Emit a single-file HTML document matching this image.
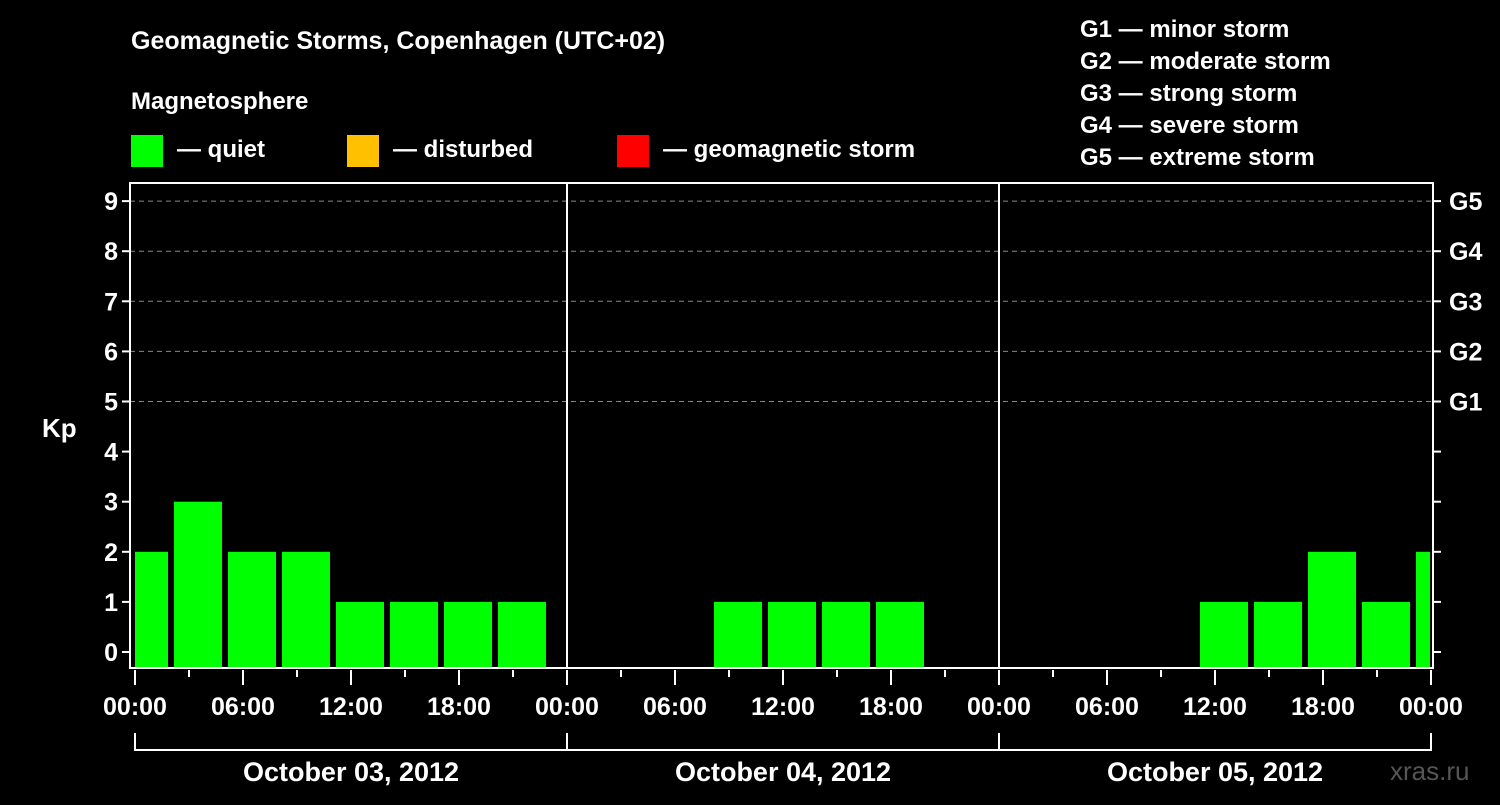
<!DOCTYPE html>
<html><head><meta charset="utf-8"><style>
body{margin:0;background:#000;width:1500px;height:800px;overflow:hidden}
svg text{font-family:"Liberation Sans",Arial,sans-serif;font-weight:bold;fill:#fff}
</style></head><body>
<svg id="chart" width="1500" height="800" viewBox="0 0 1500 800">
<text x="131" y="49" font-size="25">Geomagnetic Storms, Copenhagen (UTC+02)</text>
<text x="131" y="109" font-size="24">Magnetosphere</text>
<g><rect x="131" y="135" width="32" height="32" fill="#00ff00"/><text x="177" y="157" font-size="24">— quiet</text></g>
<g><rect x="347" y="135" width="32" height="32" fill="#ffc000"/><text x="393" y="157" font-size="24">— disturbed</text></g>
<g><rect x="617" y="135" width="32" height="32" fill="#ff0000"/><text x="663" y="157" font-size="24">— geomagnetic storm</text></g>
<g font-size="24">
<text x="1080" y="37">G1 — minor storm</text><text x="1080" y="69">G2 — moderate storm</text><text x="1080" y="101">G3 — strong storm</text><text x="1080" y="133">G4 — severe storm</text><text x="1080" y="165">G5 — extreme storm</text></g>
<text x="42" y="437" font-size="26">Kp</text>
<text x="1390" y="780" font-size="26" fill="#555" style="fill:#555;font-weight:normal">xras.ru</text>
<g id="grid"></g><g id="bars"></g><g id="axes"></g>
</svg>
<script>
const days = ["October 03, 2012","October 04, 2012","October 05, 2012"];
const hourLabels = ["00:00","06:00","12:00","18:00"];
const kpTicks = [0,1,2,3,4,5,6,7,8,9];
const gLabels = ["G1","G2","G3","G4","G5"];
// bar start hours relative to Oct 03 00:00 (local), and Kp values
const barHours = [-1,2,5,8,11,14,17,20,32,35,38,41,59,62,65,68,71];
const kpValues = [2,3,2,2,1,1,1,1,1,1,1,1,1,1,2,1,2];
const NS="http://www.w3.org/2000/svg";
const X0=135, PXH=18, Y0=652, PXK=50.1, L=130, R=1433, T=183, B=668;
const x=h=>X0+h*PXH, y=k=>Y0-k*PXK;
function el(p,t,a){const e=document.createElementNS(NS,t);for(const k in a)e.setAttribute(k,a[k]);p.appendChild(e);return e;}
const g=document.getElementById('grid'),b=document.getElementById('bars'),ax=document.getElementById('axes');
for(let k=5;k<=9;k++){const l=el(g,'line',{x1:L,x2:R,y1:y(k),y2:y(k),stroke:'#888','stroke-dasharray':'5,4','stroke-width':1});

}
barHours.forEach((h,i)=>{const x1=Math.max(x(h)+3,L+5),x2=Math.min(x(h+3)-3,R-3);
const r=el(b,'rect',{x:x1,y:y(kpValues[i]),width:x2-x1,height:B-y(kpValues[i]),fill:kpValues[i]>=5?'#ff0000':kpValues[i]>=4?'#ffc000':'#00ff00'});

});
const fr=el(ax,'path',{d:`M${L} ${T}H${R}V${B}H${L}Z`,fill:'none',stroke:'#fff','stroke-width':2});


for(let d=1;d<days.length;d++){const l=el(ax,'line',{x1:x(24*d),x2:x(24*d),y1:T,y2:B,stroke:'#fff','stroke-width':2});

}
kpTicks.forEach(k=>{el(ax,'line',{x1:L-8,x2:L,y1:y(k),y2:y(k),stroke:'#fff','stroke-width':2});
el(ax,'line',{x1:R,x2:R+8,y1:y(k),y2:y(k),stroke:'#fff','stroke-width':2});
const t=el(ax,'text',{x:L-12,y:y(k)+9,'font-size':25,'text-anchor':'end'});t.textContent=k;

});
gLabels.forEach((s,i)=>{const t=el(ax,'text',{x:R+16,y:y(5+i)+9,'font-size':25});t.textContent=s;

});
for(let h=0;h<=24*days.length;h+=3){const maj=h%6==0;el(ax,'line',{x1:x(h),x2:x(h),y1:B+2,y2:B+(maj?17:9),stroke:'#fff','stroke-width':2});
if(maj&&(h%24!=0||true)){const lab=hourLabels[(h%24)/6];
const t=el(ax,'text',{x:x(h),y:715,'font-size':25,'text-anchor':'middle'});t.textContent=lab;

}}
days.forEach((d,i)=>{const p=el(ax,'path',{d:`M${x(24*i)} 733V750H${x(24*i+24)}V733`,fill:'none',stroke:'#fff','stroke-width':2});


const t=el(ax,'text',{x:x(24*i+12),y:781,'font-size':27,'text-anchor':'middle'});t.textContent=d;

});
</script>
</body></html>
